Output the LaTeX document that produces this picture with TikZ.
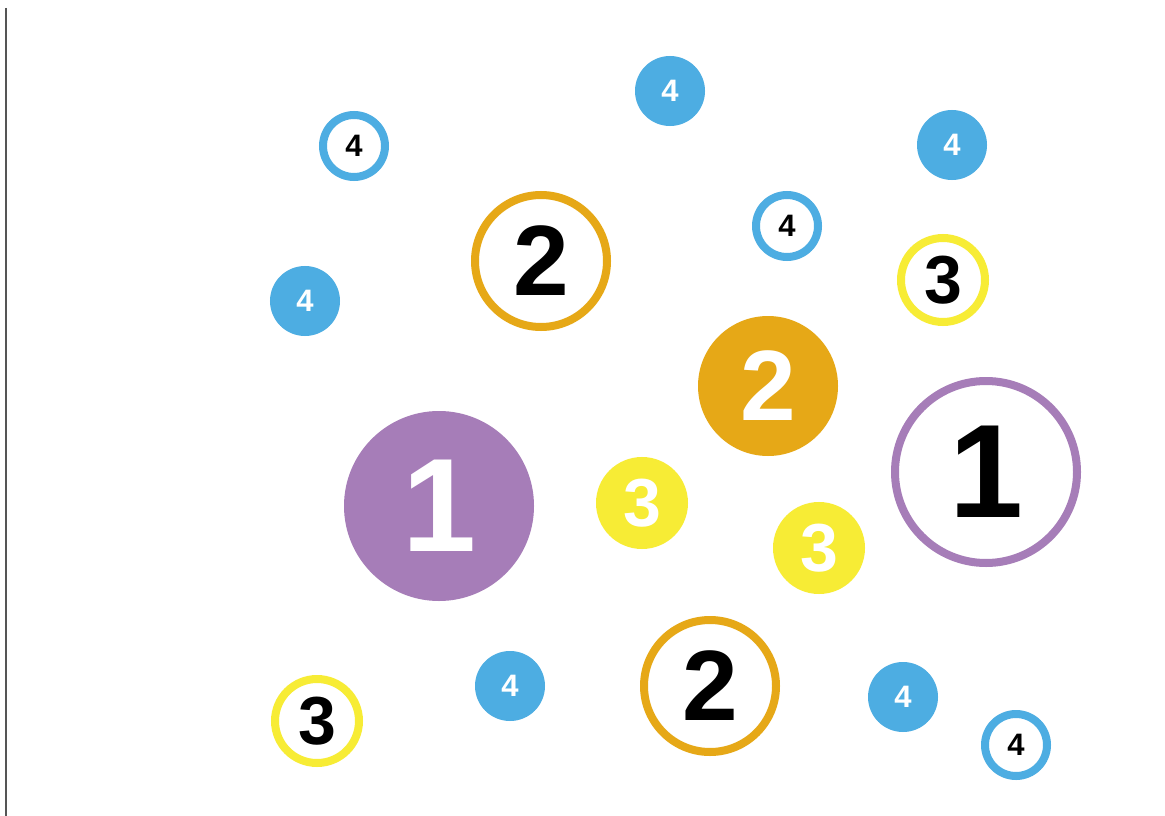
\documentclass[tikz,border=0pt]{standalone}
\usepackage{fontspec}
\setmainfont{Liberation Sans}
\definecolor{lavender}{RGB}{166,125,184}
\definecolor{amber}{RGB}{230,168,23}
\definecolor{lemon}{RGB}{247,236,53}
\definecolor{skyblue}{RGB}{77,173,226}
\definecolor{edgegray}{RGB}{85,85,85}
\usepackage{tikz}

\begin{document}
\begin{tikzpicture}[x=1pt, y=-1pt,
    num/.style={circle, inner sep=0pt, line width=8pt},
    disc/.style={num, fill=#1, draw=#1, text=white},
    ring/.style={num, fill=white, draw=#1, text=black},
    lvlone/.style={minimum size=182pt, font=\bfseries\fontsize{133}{133}\selectfont},
    lvltwo/.style={minimum size=132pt, font=\bfseries\fontsize{100}{100}\selectfont},
    lvlthree/.style={minimum size=84pt, font=\bfseries\fontsize{68}{68}\selectfont},
    lvlfour/.style={minimum size=62pt, font=\bfseries\fontsize{31}{31}\selectfont},
  ]
  \useasboundingbox[fill=white] (0,0) rectangle (1165,816);
  \coordinate (edgetop) at (6,8);
  \coordinate (edgebot) at (6,816);
  \draw[line width=2pt, edgegray] (edgetop) -- (edgebot);

  % level 1
  \node[disc=lavender, lvlone] (onefill) at (439,506) {1};
  \node[ring=lavender, lvlone] (onering) at (986,472) {1};

  % level 2
  \node[ring=amber, lvltwo] (twotop) at (541,261) {2};
  \node[disc=amber, lvltwo] (twofill) at (768,386) {2};
  \node[ring=amber, lvltwo] (twobot) at (710,686) {2};

  % level 3
  \node[disc=lemon, lvlthree] (threea) at (642,503) {3};
  \node[disc=lemon, lvlthree] (threeb) at (819,548) {3};
  \node[ring=lemon, lvlthree] (threec) at (943,280) {3};
  \node[ring=lemon, lvlthree] (threed) at (317,721) {3};

  % level 4
  \node[disc=skyblue, lvlfour] (foura) at (670,91) {4};
  \node[disc=skyblue, lvlfour] (fourb) at (952,145) {4};
  \node[disc=skyblue, lvlfour] (fourc) at (305,301) {4};
  \node[disc=skyblue, lvlfour] (fourd) at (510,686) {4};
  \node[disc=skyblue, lvlfour] (foure) at (903,697) {4};
  \node[ring=skyblue, lvlfour] (fourf) at (354,146) {4};
  \node[ring=skyblue, lvlfour] (fourg) at (787,226) {4};
  \node[ring=skyblue, lvlfour] (fourh) at (1016,745) {4};
\end{tikzpicture}
\end{document}
